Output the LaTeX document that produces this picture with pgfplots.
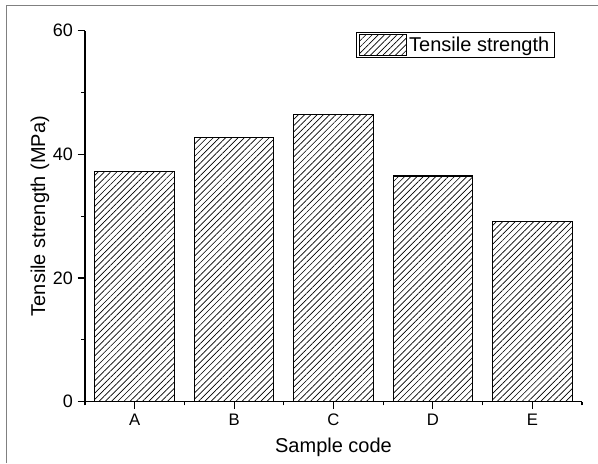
\documentclass[border=0pt]{standalone}
\usepackage{fontspec}
\setmainfont{Liberation Sans}
\usepackage{pgfplots}
\pgfplotsset{compat=1.18}
\usetikzlibrary{patterns.meta}

\tikzset{hatch/.style={pattern={Lines[angle=45,distance=3.3pt,line width=0.5pt]}, pattern color=black}}

\begin{document}
\begin{tikzpicture}
\path[use as bounding box] (0,0) rectangle (448.5pt,347.25pt);
% outer frame of the figure (left and top edges visible)
\draw[gray, line width=0.8pt] (4.7pt,0) -- (4.7pt,343pt) -- (448.5pt,343pt);
\begin{axis}[
    at={(63.75pt,45.98pt)}, anchor=south west,
    scale only axis, width=372.75pt, height=278.25pt,
    axis lines=left, axis line style={-, line width=1pt},
    ybar, bar width=0.8,
    xmin=-0.5, xmax=4.5, ymin=0, ymax=60,
    xtick={0,1,2,3,4}, xticklabels={A,B,C,D,E},
    minor xtick={-0.5,0.5,1.5,2.5,3.5,4.5},
    ytick={0,20,40,60}, minor ytick={10,30,50},
    tick align=outside, major tick length=5.5pt, minor tick length=2.8pt,
    tick style={black, line width=0.8pt},
    /pgf/number format/assume math mode=true,
    yticklabel style={font=\fontsize{13.5}{16}\selectfont},
    xticklabel style={font=\fontsize{12.5}{15}\selectfont},
    xlabel={Sample code},
    xlabel style={font=\fontsize{15}{18}\selectfont, at={(axis description cs:0.5,-0.138)}, anchor=base},
    ylabel={Tensile strength (MPa)},
    ylabel style={font=\fontsize{15}{18}\selectfont, at={(axis description cs:-0.0905,0.5)}, anchor=center},
    legend style={at={(0.9457,0.9957)}, anchor=north east, draw=black, line width=0.6pt,
        font=\fontsize{15}{18}\selectfont, inner xsep=2pt, inner ysep=1pt},
    legend cell align=left,
    legend image code/.code={\draw[hatch, draw=black, line width=0.6pt] (0pt,-7.9pt) rectangle (35pt,7.9pt);},
]
\addplot[draw=black, line width=0.8pt, hatch] coordinates {
    (0,37.3) (1,42.7) (2,46.4) (3,36.5) (4,29.2)
};
\addlegendentry{Tensile strength}
\end{axis}
\end{tikzpicture}
\end{document}
